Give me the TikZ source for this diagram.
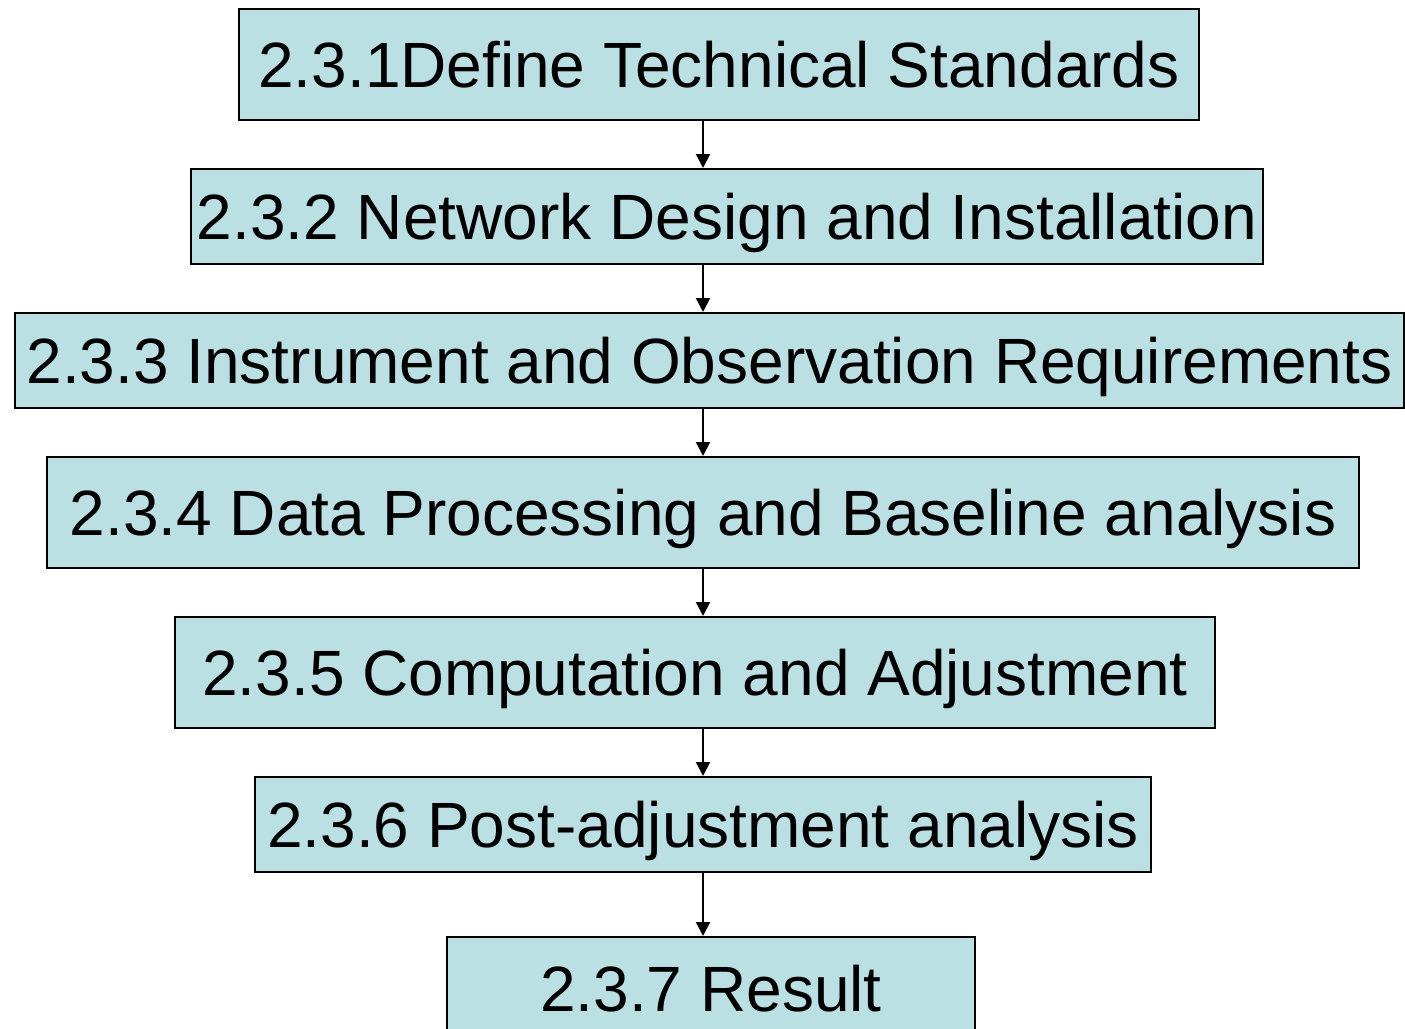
\documentclass[tikz,border=0pt]{standalone}
\usepackage{fontspec}
\setmainfont{Liberation Sans}
\usetikzlibrary{arrows.meta}
\definecolor{boxblue}{HTML}{BBE0E3}

\begin{document}
\begin{tikzpicture}[x=0.5pt, y=-0.5pt,
	stepbox/.style={draw, rectangle, fill=boxblue, line width=1pt, inner sep=0pt,
		text height=23pt, text depth=0pt, font=\fontsize{32}{38}\selectfont},
	>={Triangle[length=7pt, width=7pt]}]
				\useasboundingbox (0,0) rectangle (1405,1029);
				\node[stepbox, minimum width=480pt, minimum height=55.5pt] (S1)at(719, 64.5) {2.3.1Define Technical Standards};
				\node[stepbox, minimum width=536pt, minimum height=47.5pt] (S2)at(727, 216.5) {2.3.2 Network Design and Installation};
				\node[stepbox, minimum width=694.5pt, minimum height=47.5pt] (S3)at(709.5, 360.5) {2.3.3 Instrument and Observation Requirements};
				\node[stepbox, minimum width=656pt, minimum height=55.5pt] (S4)at(703, 512.5) {2.3.4 Data Processing and Baseline analysis};
				\node[stepbox, minimum width=520pt, minimum height=55.5pt] (S5)at(695, 672.5) {2.3.5 Computation and Adjustment};
				\node[stepbox, minimum width=448pt, minimum height=47.5pt] (S6)at(703, 824.5) {2.3.6 Post-adjustment analysis};
				\node[stepbox, minimum width=264pt, minimum height=51pt] (S7)at(711, 988) {2.3.7 Result};
				\coordinate (axis) at (703, 0);
				\draw[->, line width=1pt] (S1.south -| axis) -- (S2.north -| axis);
				\draw[->, line width=1pt] (S2.south -| axis) -- (S3.north -| axis);
				\draw[->, line width=1pt] (S3.south -| axis) -- (S4.north -| axis);
				\draw[->, line width=1pt] (S4.south -| axis) -- (S5.north -| axis);
				\draw[->, line width=1pt] (S5.south -| axis) -- (S6.north -| axis);
				\draw[->, line width=1pt] (S6.south -| axis) -- (S7.north -| axis);
			\end{tikzpicture}
\end{document}
